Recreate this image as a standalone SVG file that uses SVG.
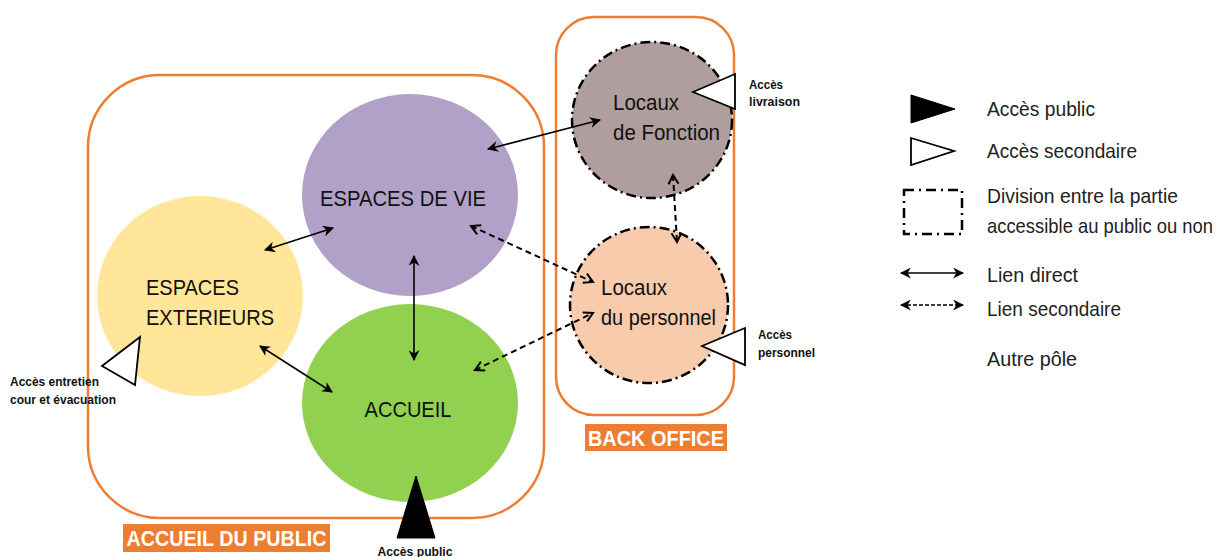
<svg xmlns="http://www.w3.org/2000/svg" width="1228" height="557" viewBox="0 0 1228 557">
<style>
.zone{fill:none;stroke:#ED7D31;stroke-width:2.5}
.zlabel{fill:#ED7D31}
.ztext{font-family:"Liberation Sans Narrow","Liberation Sans",Arial,sans-serif;font-weight:bold;font-size:22px;fill:#fff}
.ntext{font-family:"Liberation Sans Narrow","Liberation Sans",Arial,sans-serif;font-size:22px;fill:#111}
.small{font-family:"Liberation Sans Narrow","Liberation Sans",Arial,sans-serif;font-weight:bold;font-size:12px;fill:#111}
.leg{font-family:"Liberation Sans Narrow","Liberation Sans",Arial,sans-serif;font-size:21px;fill:#222}
.dd{stroke:#000;stroke-width:2.5;stroke-dasharray:10 4 2 4}
.solid{fill:none;stroke:#000;stroke-width:1.6}
.dash{fill:none;stroke:#000;stroke-width:2;stroke-dasharray:6 4}
.acc2{fill:#fff;stroke:#000;stroke-width:1.8;stroke-linejoin:miter}
.acc1{fill:#000;stroke:#000;stroke-width:1}
</style>
<defs>
<marker id="stealth" viewBox="0 0 10 10" refX="9" refY="5" markerWidth="11" markerHeight="11" markerUnits="userSpaceOnUse" orient="auto-start-reverse">
<path d="M0,0 L10,5 L0,10 L3,5 z" fill="#000"/>
</marker>
<marker id="chev" viewBox="0 0 12 12" refX="10" refY="6" markerWidth="12" markerHeight="12" markerUnits="userSpaceOnUse" orient="auto-start-reverse">
<path d="M1,1 L10,6 L1,11" fill="none" stroke="#000" stroke-width="2"/>
</marker>
</defs>
<rect width="1228" height="557" fill="#fff"/>

<g id="zone-accueil-public">
<rect class="zone" x="88" y="75" width="456" height="443" rx="72" ry="72"/>
<rect class="zlabel" x="123" y="524" width="207" height="28"/>
<text class="ztext" x="226.5" y="546" text-anchor="middle" textLength="200" lengthAdjust="spacingAndGlyphs">ACCUEIL DU PUBLIC</text>
</g>
<g id="zone-back-office">
<rect class="zone" x="556" y="17" width="178" height="398" rx="38" ry="38"/>
<rect class="zlabel" x="585" y="424" width="142" height="27"/>
<text class="ztext" x="656" y="446" text-anchor="middle" textLength="136" lengthAdjust="spacingAndGlyphs">BACK OFFICE</text>
</g>

<g id="node-espaces-vie">
<ellipse cx="410" cy="195" rx="108" ry="101" fill="#B1A0C7"/>
<text class="ntext" x="403" y="206" text-anchor="middle" font-size="24" textLength="166" lengthAdjust="spacingAndGlyphs">ESPACES DE VIE</text>
</g>
<g id="node-espaces-exterieurs">
<ellipse cx="200" cy="296" rx="103" ry="100" fill="#FFE699"/>
<text class="ntext" x="146" y="295" font-size="24" textLength="93" lengthAdjust="spacingAndGlyphs">ESPACES</text>
<text class="ntext" x="146" y="325" font-size="24" textLength="128" lengthAdjust="spacingAndGlyphs">EXTERIEURS</text>
</g>
<g id="node-accueil">
<ellipse cx="410" cy="403" rx="108" ry="99" fill="#92D050"/>
<text class="ntext" x="408" y="417" text-anchor="middle" font-size="24" textLength="87" lengthAdjust="spacingAndGlyphs">ACCUEIL</text>
</g>
<g id="node-locaux-fonction">
<ellipse class="dd" cx="652" cy="120" rx="80" ry="78" fill="#B09E9E"/>
<text class="ntext" x="613" y="110" textLength="66" lengthAdjust="spacingAndGlyphs">Locaux</text>
<text class="ntext" x="613" y="140" textLength="107" lengthAdjust="spacingAndGlyphs">de Fonction</text>
</g>
<g id="node-locaux-personnel">
<ellipse class="dd" cx="649" cy="305" rx="79" ry="78" fill="#F8CBAD"/>
<text class="ntext" x="601" y="295" textLength="66" lengthAdjust="spacingAndGlyphs">Locaux</text>
<text class="ntext" x="601" y="325" textLength="115" lengthAdjust="spacingAndGlyphs">du personnel</text>
</g>

<g id="connectors">
<line class="solid" x1="488" y1="149" x2="600" y2="120" marker-start="url(#stealth)" marker-end="url(#stealth)"/>
<line class="solid" x1="265" y1="250" x2="333" y2="228" marker-start="url(#stealth)" marker-end="url(#stealth)"/>
<line class="solid" x1="260" y1="346" x2="332" y2="392" marker-start="url(#stealth)" marker-end="url(#stealth)"/>
<line class="solid" x1="414" y1="256" x2="414" y2="360" marker-start="url(#stealth)" marker-end="url(#stealth)"/>
<line class="dash" x1="471" y1="226" x2="593" y2="282" marker-start="url(#chev)" marker-end="url(#chev)"/>
<line class="dash" x1="475" y1="370" x2="593" y2="313" marker-start="url(#chev)" marker-end="url(#chev)"/>
<line class="dash" x1="673" y1="175" x2="677" y2="242" marker-start="url(#chev)" marker-end="url(#chev)"/>
</g>

<g id="acces-livraison">
<polygon class="acc2" points="693,92 735,74 735,109"/>
<text class="small" x="749" y="89" textLength="34" lengthAdjust="spacingAndGlyphs">Accès</text>
<text class="small" x="749" y="106" textLength="51" lengthAdjust="spacingAndGlyphs">livraison</text>
</g>
<g id="acces-personnel">
<polygon class="acc2" points="702,346 745,328 745,365"/>
<text class="small" x="758" y="339" textLength="34" lengthAdjust="spacingAndGlyphs">Accès</text>
<text class="small" x="758" y="357" textLength="57" lengthAdjust="spacingAndGlyphs">personnel</text>
</g>
<g id="acces-entretien">
<polygon class="acc2" points="140,337 102,366 135,385"/>
<text class="small" x="10" y="386" textLength="89" lengthAdjust="spacingAndGlyphs">Accès entretien</text>
<text class="small" x="10" y="404" textLength="106" lengthAdjust="spacingAndGlyphs">cour et évacuation</text>
</g>
<g id="acces-public">
<polygon class="acc1" points="416,476 397,538 435,538"/>
<text class="small" x="415" y="556" text-anchor="middle" textLength="75" lengthAdjust="spacingAndGlyphs">Accès public</text>
</g>

<g id="legend">
<polygon class="acc1" points="911,95 955,109 911,123"/>
<text class="leg" x="987" y="116" textLength="108" lengthAdjust="spacingAndGlyphs">Accès public</text>
<polygon class="acc2" points="911,138 954,151 911,165" stroke-width="1.5"/>
<text class="leg" x="987" y="158" textLength="150" lengthAdjust="spacingAndGlyphs">Accès secondaire</text>
<rect x="904" y="190" width="58" height="44" fill="none" stroke="#000" stroke-width="2.5" stroke-dasharray="10 5 2 5"/>
<text class="leg" x="987" y="203" textLength="191" lengthAdjust="spacingAndGlyphs">Division entre la partie</text>
<text class="leg" x="987" y="233" font-size="18" textLength="226" lengthAdjust="spacingAndGlyphs">accessible au public ou non</text>
<line class="solid" x1="901" y1="273" x2="963" y2="273" marker-start="url(#stealth)" marker-end="url(#stealth)"/>
<text class="leg" x="987" y="282" textLength="91" lengthAdjust="spacingAndGlyphs">Lien direct</text>
<line x1="901" y1="305" x2="963" y2="305" stroke="#000" stroke-width="1.5" stroke-dasharray="4 2" marker-start="url(#stealth)" marker-end="url(#stealth)"/>
<text class="leg" x="987" y="316" textLength="134" lengthAdjust="spacingAndGlyphs">Lien secondaire</text>
<text class="leg" x="987" y="366" textLength="90" lengthAdjust="spacingAndGlyphs">Autre pôle</text>
</g>
</svg>
